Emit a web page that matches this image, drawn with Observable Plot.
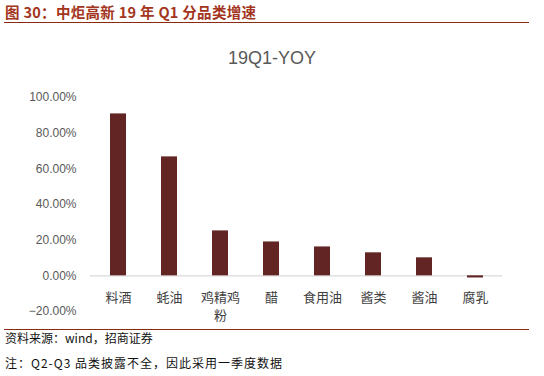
<!DOCTYPE html>
<html>
<head>
<meta charset="utf-8">
<script src="https://cdn.jsdelivr.net/npm/d3@7"></script>
<script src="https://cdn.jsdelivr.net/npm/@observablehq/plot@0.6"></script>
<style>
  html, body { margin: 0; padding: 0; background: #fff; }
  #wrap { position: relative; width: 544px; height: 376px; overflow: hidden; font-family: "Noto Sans CJK SC", "Liberation Sans", sans-serif; }
  #title { position: absolute; left: 5px; top: 3px; font-size: 14.5px; font-weight: bold; color: #A33520; white-space: nowrap; line-height: 18px; letter-spacing: 0.3px; }
  #rule1 { position: absolute; left: 4px; top: 22px; width: 525px; height: 0; border-top: 1.5px solid #8B2A14; }
  #ctitle { position: absolute; left: 0; width: 544px; top: 46px; text-align: center; font-family: "Liberation Sans", Arial, sans-serif; font-size: 18px; color: #595959; line-height: 24px; }
  #chart { position: absolute; left: 0; top: 28px; }
  #rule2 { position: absolute; left: 4px; top: 329px; width: 525px; height: 0; border-top: 1.5px solid #8B2A14; }
  #src { position: absolute; left: 5px; top: 330px; font-size: 12px; color: #111; white-space: nowrap; line-height: 16px; }
  #note { position: absolute; left: 5px; top: 355px; font-size: 12px; color: #111; white-space: nowrap; line-height: 16px; letter-spacing: 1px; }
</style>
</head>
<body>
<div id="wrap">
  <div id="title">图 30：中炬高新 19 年 Q1 分品类增速</div>
  <div id="rule1"></div>
  <div id="ctitle">19Q1-YOY</div>
  <div id="chart"></div>
  <div id="rule2"></div>
  <div id="src">资料来源：wind，招商证券</div>
  <div id="note">注：Q2-Q3 品类披露不全，因此采用一季度数据</div>
</div>
<script>
const categories = ["料酒", "蚝油", "鸡精鸡粉", "醋", "食用油", "酱类", "酱油", "腐乳"];
const labels = ["料酒", "蚝油", "鸡精鸡\n粉", "醋", "食用油", "酱类", "酱油", "腐乳"];
const yoy = [0.908, 0.667, 0.252, 0.19, 0.162, 0.129, 0.101, -0.012];
const yTicks = [-0.2, 0, 0.2, 0.4, 0.6, 0.8, 1.0];

const data = categories.map((c, i) => ({cat: c, label: labels[i], v: yoy[i]}));
const pct = d3.format(".2%");

const chart = Plot.plot({
  width: 544,
  height: 300,
  marginLeft: 90,
  marginRight: 42,
  marginTop: 69,
  marginBottom: 17,
  style: { fontFamily: "Liberation Sans, Arial, sans-serif", fontSize: "12px", color: "#595959", background: "transparent", overflow: "visible" },
  x: { domain: categories, paddingInner: 0.69, paddingOuter: 0.345, align: 0.5, axis: null },
  y: { domain: [-0.2, 1.0], ticks: yTicks, axis: null },
  marks: [
    Plot.axisY({ ticks: yTicks, tickFormat: pct, tickSize: 0, tickPadding: 14, label: null, fontSize: 12, fill: "#595959" }),
    Plot.ruleY([0], { stroke: "#d9d9d9", strokeWidth: 1.2 }),
    Plot.barY(data, { x: "cat", y: "v", fill: "#632523" }),
    Plot.text(data, { x: "cat", y: () => 0, text: "label", dy: 13, lineAnchor: "top", fontSize: 13, fill: "#404040", fontFamily: "Noto Sans CJK SC, sans-serif", lineHeight: 1.38 })
  ]
});
document.getElementById("chart").appendChild(chart);
</script>
</body>
</html>
